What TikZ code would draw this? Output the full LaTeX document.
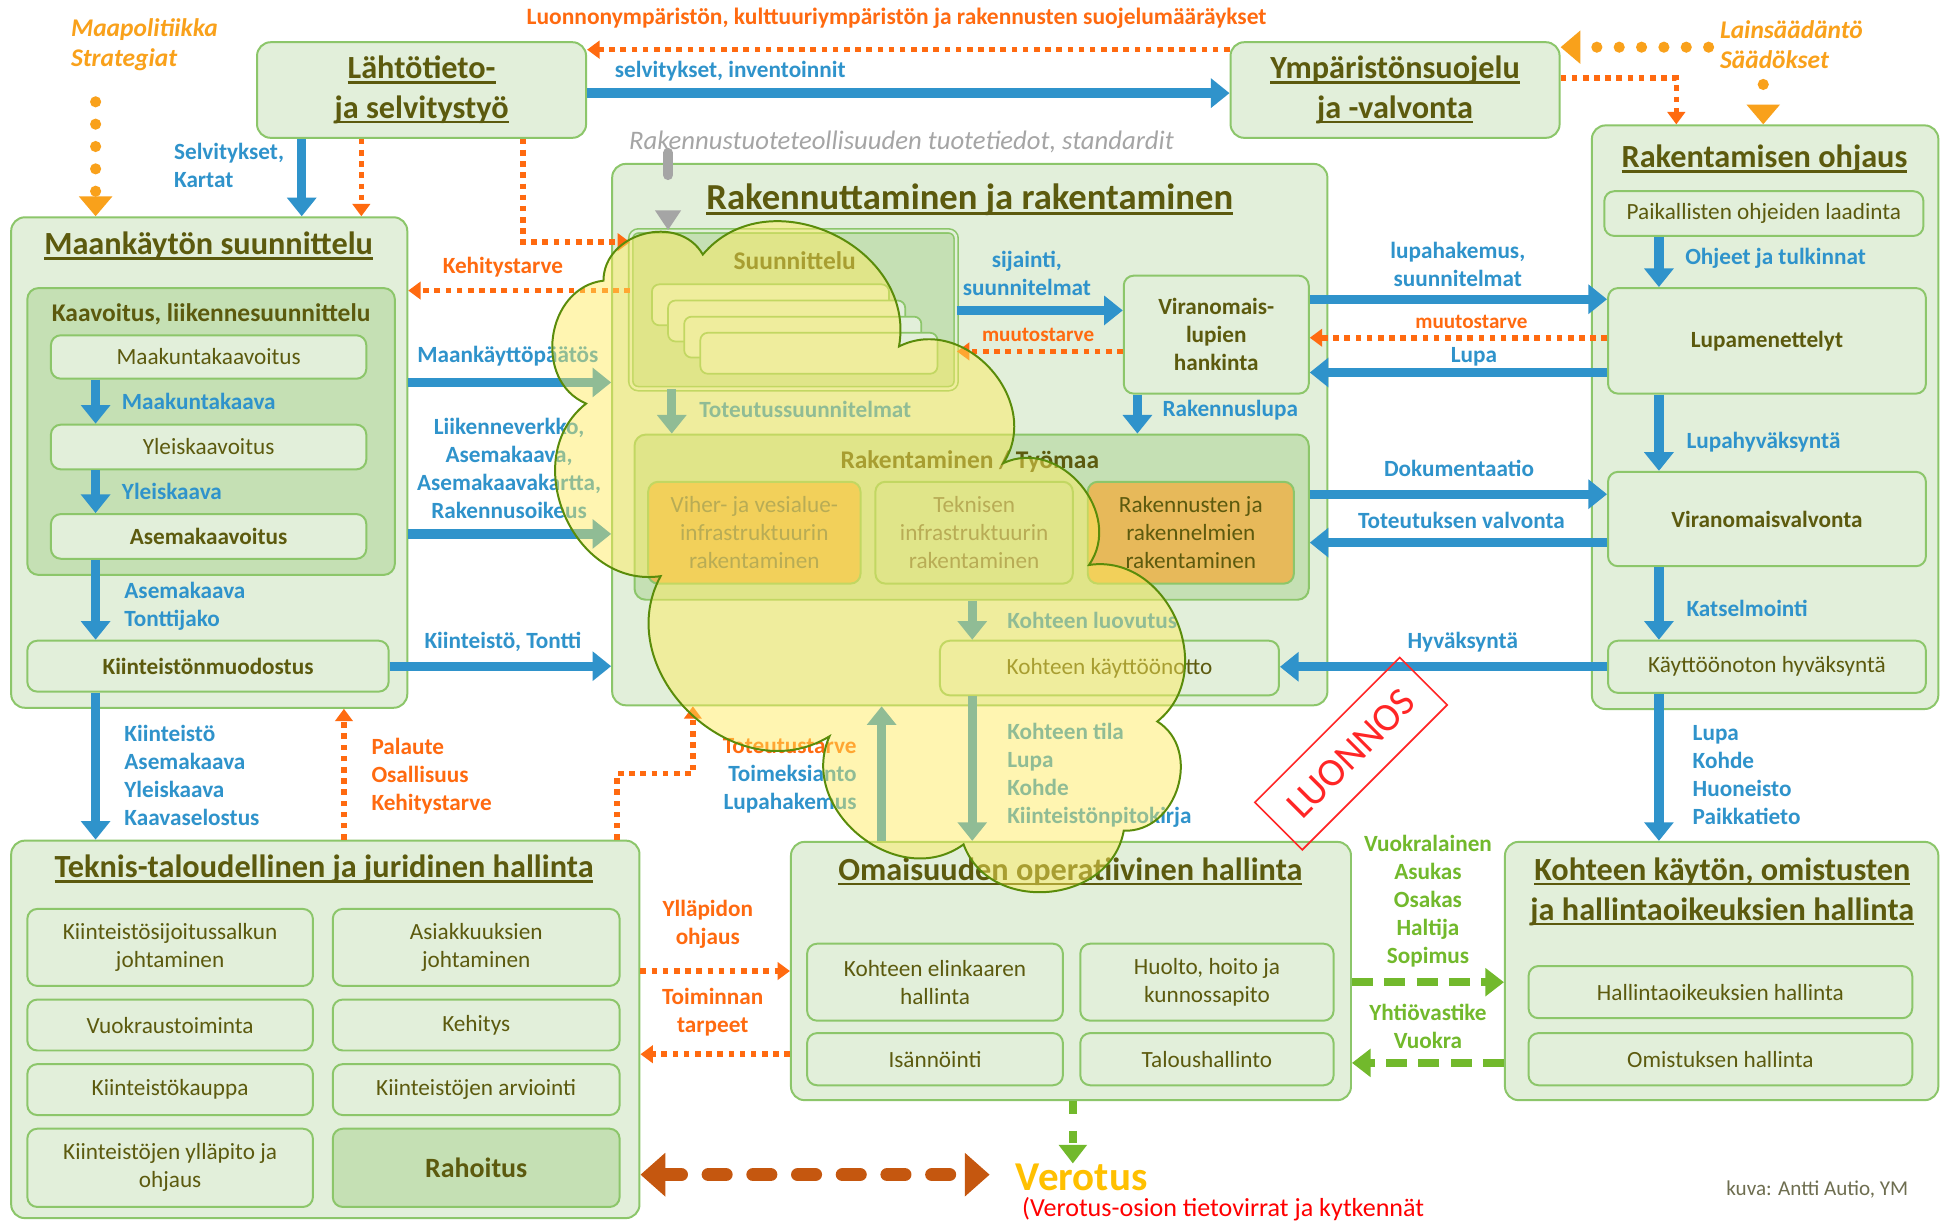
\documentclass[tikz,border=0pt]{standalone}
\usepackage{fontspec}
\setmainfont{Carlito}
\usetikzlibrary{arrows.meta,fit}

\definecolor{boxfill}{HTML}{E2EFDA}
\definecolor{boxdark}{HTML}{C5E0B4}
\definecolor{boxline}{HTML}{8CC66A}
\definecolor{olive}{HTML}{5C5A0E}
\definecolor{fadetext}{HTML}{7A7452}
\definecolor{flowblue}{HTML}{2F93CB}
\definecolor{needorange}{HTML}{FF6A10}
\definecolor{lawamber}{HTML}{F9A11B}
\definecolor{usegreen}{HTML}{72B92C}
\definecolor{taxbrown}{HTML}{C5570F}
\definecolor{taxgold}{HTML}{FFC000}
\definecolor{stampred}{HTML}{FF2626}
\definecolor{prodgray}{HTML}{A5A5A5}
\definecolor{buildorange}{HTML}{E7B95A}
\definecolor{cloudyellow}{HTML}{FFEB5A}
\definecolor{cloudline}{HTML}{5A8C0A}
\definecolor{kuvacolor}{HTML}{6E6E50}

\newcommand\lblfont{\fontsize{18.7}{22.5}\selectfont\bfseries}
\newcommand\smalllblfont{\fontsize{17}{20}\selectfont\bfseries}
\newcommand\itemfont{\fontsize{18.7}{22.5}\selectfont}
\newcommand\ttlfont{\fontsize{26}{32}\selectfont\bfseries}
\newcommand\bigttlfont{\fontsize{29.5}{34}\selectfont\bfseries}
\newcommand\subfont{\fontsize{20.5}{24}\selectfont\bfseries}
\newcommand\lawfont{\fontsize{20.5}{24}\selectfont\bfseries\itshape}
\newcommand\topfont{\fontsize{18.9}{22}\selectfont\bfseries}
\newcommand\prodfont{\fontsize{21.5}{24}\selectfont\itshape}
\newcommand\verofont{\fontsize{33}{36}\selectfont\bfseries}
\newcommand\infofont{\fontsize{21}{24}\selectfont}
\newcommand\kuvafont{\fontsize{17}{20}\selectfont}
\newcommand\stampfont{\fontsize{32}{36}\selectfont}
\newcommand\rahafont{\fontsize{22.5}{26}\selectfont\bfseries}

\newsavebox\undlbox
\newcommand\undl[1]{\leavevmode\sbox\undlbox{#1}\rlap{\rule[-4pt]{\wd\undlbox}{2pt}}\usebox\undlbox}

\tikzset{
  area/.style={draw=boxline, line width=1.6pt, fill=boxfill, rounded corners=11pt, inner sep=0pt},
  subarea/.style={area, fill=boxdark, rounded corners=9pt},
  planbox/.style={area, fill=boxdark, double=boxfill, double distance=2pt, line width=1.3pt, rounded corners=6pt},
  item/.style={area, rounded corners=8pt, text=olive, align=center, font=\itemfont},
  page/.style={draw=boxline, line width=1.4pt, fill=boxfill, rounded corners=6pt},
  ttl/.style={text=olive, align=center, font=\ttlfont, inner sep=0pt},
  subttl/.style={text=olive, font=\subfont, inner sep=0pt},
  lbl/.style={font=\lblfont, inner sep=0pt, align=left},
  bluelbl/.style={lbl, text=flowblue},
  needlbl/.style={lbl, text=needorange},
  greenlbl/.style={lbl, text=usegreen, align=center},
  lawlbl/.style={font=\lawfont, text=lawamber, align=left, inner sep=0pt},
  flow/.style={draw=flowblue, line width=7.5pt, -{Triangle[length=15pt, width=23pt]}},
  need/.style={draw=needorange, line width=4.5pt, dash pattern=on 4.5pt off 4.5pt, -{Triangle[length=10pt, width=14pt]}},
  lawdots/.style={draw=lawamber, line width=9pt, line cap=round, dash pattern=on 0pt off 18pt, -{Triangle[length=16pt, width=26pt]}},
  usedash/.style={draw=usegreen, line width=6pt, dash pattern=on 17pt off 9pt, -{Triangle[length=15pt, width=22pt]}},
  taxdash/.style={draw=taxbrown, line width=11pt, line cap=round, dash pattern=on 14pt off 22pt, {Triangle[length=20pt, width=34pt]}-{Triangle[length=20pt, width=34pt]}},
  prodline/.style={draw=prodgray, line width=8pt, line cap=round, dash pattern=on 18pt off 40pt, -{Triangle[length=16pt, width=20pt]}},
  stamp/.style={draw=stampred, line width=1.3pt, text=stampred, font=\stampfont, inner sep=0pt},
  cloudfill/.style={fill=cloudyellow, fill opacity=0.47, draw=cloudline, draw opacity=1, line width=1.6pt},
}

\begin{document}
\begin{tikzpicture}[x=1pt, y=-1pt, font=\itemfont]
\fill[white] (0,0) rectangle (1568,984);
\useasboundingbox (0,0) rectangle (1568,984);
%
% upper boxes
\node[area, ttl, minimum width=265pt, minimum height=77pt] (lahto) at (339.5,72.5) {\undl{Lähtötieto-}\\\undl{ja selvitystyö}};
\node[area, ttl, minimum width=265pt, minimum height=77pt] (ymp) at (1123.5,72.5) {\undl{Ympäristönsuojelu}\\\undl{ja -valvonta}};
%
% maankaytto
\node[area, fit={(9,175) (328,570)}] (maank) {};
\node[ttl] (maankttl) at (168,198) {\undl{Maankäytön suunnittelu}};
\node[subarea, fit={(22,232) (318,463)}] (kaav) {};
\node[subttl] (kaavttl) at (170,253) {Kaavoitus, liikennesuunnittelu};
\node[item, minimum width=254pt, minimum height=35pt] (mkv) at (168,287.5) {Maakuntakaavoitus};
\node[item, minimum width=254pt, minimum height=36pt] (ykv) at (168,360) {Yleiskaavoitus};
\node[item, minimum width=254pt, minimum height=36pt, font=\itemfont\bfseries] (akv) at (168,432) {Asemakaavoitus};
\node[item, minimum width=291pt, minimum height=41pt, font=\itemfont\bfseries] (kmuod) at (167.5,536.5) {Kiinteistönmuodostus};
%
% rakennuttaminen
\node[area, fit={(493,132) (1069,568)}] (rakennut) {};
\node[ttl, font=\bigttlfont] (rakennutttl) at (781,161) {\undl{Rakennuttaminen ja rakentaminen}};
\node[planbox, fit={(508,186) (770,313)}] (suun) {};
\node[subttl] (suunttl) at (640,210) {Suunnittelu};
\foreach \k in {0,...,3}
  \draw[page] (525+13*\k,229+13*\k) rectangle +(191,33);
\node[item, minimum width=149pt, minimum height=95pt, font=\itemfont\bfseries] (vlh) at (979.5,269.5) {Viranomais-\\lupien\\hankinta};
\node[subarea, fit={(511,350) (1054,483)}] (tyom) {};
\node[subttl] (tyomttl) at (781,372) {Rakentaminen / Työmaa};
\node[item, minimum width=171pt, minimum height=82pt, fill=buildorange, text=fadetext] (viher) at (607.5,429) {Viher- ja vesialue-\\infrastruktuurin\\rakentaminen};
\node[item, minimum width=159pt, minimum height=82pt, fill=boxdark, text=fadetext] (tekn) at (784.5,429) {Teknisen\\infrastruktuurin\\rakentaminen};
\node[item, minimum width=166pt, minimum height=82pt, fill=buildorange] (rakn) at (959,429) {Rakennusten ja\\rakennelmien\\rakentaminen};
\node[item, minimum width=273pt, minimum height=44pt] (kaytto) at (893.5,538) {Kohteen käyttöönotto};
%
% rakentamisen ohjaus
\node[area, fit={(1282,101) (1561,571)}] (rakohj) {};
\node[ttl] (rakohjttl) at (1421,128) {\undl{Rakentamisen ohjaus}};
\node[item, minimum width=257pt, minimum height=36pt] (paik) at (1420.5,172) {Paikallisten ohjeiden laadinta};
\node[item, minimum width=256pt, minimum height=85pt, font=\itemfont\bfseries] (lupam) at (1423,274.5) {Lupamenettelyt};
\node[item, minimum width=256pt, minimum height=76pt, font=\itemfont\bfseries] (viral) at (1423,418) {Viranomaisvalvonta};
\node[item, minimum width=256pt, minimum height=42pt] (khyv) at (1423,537) {Käyttöönoton hyväksyntä};
%
% hallinta boxes
\node[area, fit={(9,677) (515,981)}] (tth) {};
\node[ttl] (tthttl) at (261,700) {\undl{Teknis-taloudellinen ja juridinen hallinta}};
\node[item, minimum width=230pt, minimum height=62pt] (salkku) at (137,763) {Kiinteistösijoitussalkun\\johtaminen};
\node[item, minimum width=231pt, minimum height=62pt] (asiak) at (383.5,763) {Asiakkuuksien\\johtaminen};
\node[item, minimum width=230pt, minimum height=41pt] (vuokr) at (137,825.5) {Vuokraustoiminta};
\node[item, minimum width=231pt, minimum height=41pt] (kehitys) at (383.5,825.5) {Kehitys};
\node[item, minimum width=230pt, minimum height=41pt] (kauppa) at (137,877.5) {Kiinteistökauppa};
\node[item, minimum width=231pt, minimum height=41pt] (arvio) at (383.5,877.5) {Kiinteistöjen arviointi};
\node[item, minimum width=230pt, minimum height=63pt] (yllapito) at (137,940.5) {Kiinteistöjen ylläpito ja\\ohjaus};
\node[item, minimum width=231pt, minimum height=63pt, fill=boxdark, font=\rahafont] (raha) at (383.5,940.5) {Rahoitus};
%
\node[area, fit={(637,678) (1088,886)}] (omai) {};
\node[ttl] (omaittl) at (862,702) {\undl{Omaisuuden operatiivinen hallinta}};
\node[item, minimum width=206pt, minimum height=62pt] (elink) at (753,791) {Kohteen elinkaaren\\hallinta};
\node[item, minimum width=204pt, minimum height=62pt] (huolto) at (972,791) {Huolto, hoito ja\\kunnossapito};
\node[item, minimum width=206pt, minimum height=42pt] (isann) at (753,853) {Isännöinti};
\node[item, minimum width=204pt, minimum height=42pt] (talous) at (972,853) {Taloushallinto};
%
\node[area, fit={(1212,678) (1561,886)}] (kayt) {};
\node[ttl] (kayttl) at (1387,718) {\undl{Kohteen käytön, omistusten}\\\undl{ja hallintaoikeuksien hallinta}};
\node[item, minimum width=309pt, minimum height=42pt] (hallo) at (1385.5,799) {Hallintaoikeuksien hallinta};
\node[item, minimum width=309pt, minimum height=42pt] (omist) at (1385.5,853) {Omistuksen hallinta};
%
% free texts
\node[lawlbl, anchor=west] (maapol) at (57,36) {Maapolitiikka\\Strategiat};
\node[lawlbl, anchor=west] (laki) at (1385,36) {Lainsäädäntö\\Säädökset};
\node[needlbl, font=\topfont] (suojelu) at (722,15) {Luonnonympäristön, kulttuuriympäristön ja rakennusten suojelumääräykset};
\node[font=\prodfont, text=prodgray, inner sep=0pt] (prod) at (726,114) {Rakennustuoteteollisuuden tuotetiedot, standardit};
\node[font=\verofont, text=taxgold, anchor=west, inner sep=0pt] (verotus) at (818,948) {Verotus};
\node[font=\infofont, text=red, anchor=west, inner sep=0pt] (verinfo) at (823,974) {(Verotus-osion tietovirrat ja kytkennät};
\node[font=\kuvafont, text=kuvacolor, anchor=east, inner sep=0pt] (kuva) at (1537,958) {kuva: Antti Autio, YM};
%
% labels
\node[bluelbl, anchor=west] (selvinv) at (495,57) {selvitykset, inventoinnit};
\node[bluelbl, anchor=west] (selvkart) at (140,133) {Selvitykset,\\Kartat};
\node[bluelbl] (mkp) at (409,287) {Maankäyttöpäätös};
\node[bluelbl, align=center] (liik) at (410,377) {Liikenneverkko,\\Asemakaava,\\Asemakaavakartta,\\Rakennusoikeus};
\node[bluelbl] (kt) at (405,517) {Kiinteistö, Tontti};
\node[bluelbl, anchor=west] (mkaava) at (98,323) {Maakuntakaava};
\node[bluelbl, anchor=west] (ykaava) at (98,396) {Yleiskaava};
\node[bluelbl, anchor=west] (aktj) at (100,488) {Asemakaava\\Tonttijako};
\node[bluelbl, anchor=west] (kiint) at (100,624.5) {Kiinteistö\\Asemakaava\\Yleiskaava\\Kaavaselostus};
\node[bluelbl, align=center] (sijainti) at (827,220) {sijainti,\\suunnitelmat};
\node[bluelbl, anchor=west] (toteusuun) at (563,330) {Toteutussuunnitelmat};
\node[bluelbl, anchor=west] (rlupa) at (936,330) {Rakennuslupa};
\node[bluelbl, anchor=west] (luovutus) at (811,500) {Kohteen luovutus};
\node[bluelbl, anchor=west] (tila) at (811,624.5) {Kohteen tila\\Lupa\\Kohde\\Kiinteistönpitokirja};
\node[bluelbl, anchor=east, align=right] (toimeks) at (690,625) {\textcolor{needorange}{Toteutustarve}\\Toimeksianto\\Lupahakemus};
\node[bluelbl, align=center] (lupahak) at (1174,213) {lupahakemus,\\suunnitelmat};
\node[bluelbl] (lupa) at (1187,287) {Lupa};
\node[bluelbl] (dok) at (1175,377) {Dokumentaatio};
\node[bluelbl] (totval) at (1177,419) {Toteutuksen valvonta};
\node[bluelbl] (hyv) at (1178,517) {Hyväksyntä};
\node[bluelbl, anchor=west] (ohjeet) at (1357,208) {Ohjeet ja tulkinnat};
\node[bluelbl, anchor=west] (lupahyv) at (1358,356) {Lupahyväksyntä};
\node[bluelbl, anchor=west] (katsel) at (1358,490) {Katselmointi};
\node[bluelbl, anchor=west] (lkhp) at (1363,624.5) {Lupa\\Kohde\\Huoneisto\\Paikkatieto};
\node[needlbl] (kehit) at (405,215) {Kehitystarve};
\node[needlbl, font=\smalllblfont] (muut1) at (836,270) {muutostarve};
\node[needlbl, font=\smalllblfont] (muut2) at (1185,259) {muutostarve};
\node[needlbl, anchor=west] (palaute) at (299,625) {Palaute\\Osallisuus\\Kehitystarve};
\node[needlbl, align=center] (yllap) at (570,744.5) {Ylläpidon\\ohjaus};
\node[needlbl, align=center] (toimtarve) at (574,815.5) {Toiminnan\\tarpeet};
\node[greenlbl] (vuokral) at (1150,725.5) {Vuokralainen\\Asukas\\Osakas\\Haltija\\Sopimus};
\node[greenlbl] (yhtio) at (1150,826.5) {Yhtiövastike\\Vuokra};
%
\coordinate (maapoldot) at (77,82);
\coordinate (lakidot) at (1376,38);
\coordinate (lakidot2) at (1420,68);
\coordinate (taxend) at (797,946);
%
% blue flows
\draw[flow] (lahto.east |- 0,75) -- (ymp.west |- 0,75);
\draw[flow] (lahto.south -| 243,0) -- (maank.north -| 243,0);
\draw[flow] (mkv.south -| 77,0) -- (ykv.north -| 77,0);
\draw[flow] (ykv.south -| 77,0) -- (akv.north -| 77,0);
\draw[flow] (akv.south -| 77,0) -- (kmuod.north -| 77,0);
\draw[flow] (kmuod.south -| 77,0) -- (tth.north -| 77,0);
\draw[flow] (maank.east |- 0,308) -- (rakennut.west |- 0,308);
\draw[flow] (maank.east |- 0,430) -- (rakennut.west |- 0,430);
\draw[flow] (kmuod.east) -- (rakennut.west |- kmuod.east);
\draw[flow] (suun.east |- 0,250) -- (vlh.west |- 0,250);
\draw[flow] (suun.south -| 541,0) -- (tyom.north -| 541,0);
\draw[flow] (vlh.south -| 916,0) -- (tyom.north -| 916,0);
\draw[flow] (tyom.south -| 783,0) -- (kaytto.north -| 783,0);
\draw[flow] (kaytto.south -| 783,0) -- (omai.north -| 783,0);
\draw[flow] (omai.north -| 710,0) -- (rakennut.south -| 710,0);
\draw[flow] (vlh.east |- 0,241) -- (lupam.west |- 0,241);
\draw[flow] (lupam.west |- 0,300) -- (vlh.east |- 0,300);
\draw[flow] (tyom.east |- 0,398) -- (viral.west |- 0,398);
\draw[flow] (viral.west |- 0,437) -- (tyom.east |- 0,437);
\draw[flow] (khyv.west) -- (kaytto.east |- khyv.west);
\draw[flow] (paik.south -| 1336,0) -- (lupam.north -| 1336,0);
\draw[flow] (lupam.south -| 1336,0) -- (viral.north -| 1336,0);
\draw[flow] (viral.south -| 1336,0) -- (khyv.north -| 1336,0);
\draw[flow] (khyv.south -| 1336,0) -- (kayt.north -| 1336,0);
%
% needs and feedback
\draw[need] (ymp.west |- 0,40) -- (lahto.east |- 0,40);
\draw[need] (lahto.south -| 291,0) -- (maank.north -| 291,0);
\draw[need] (lahto.south -| 421,0) |- (suun.west |- 0,195);
\draw[need] (suun.west |- 0,234) -- (maank.east |- 0,234);
\draw[need] (ymp.east |- 0,63) -| (rakohj.north -| 1350,0);
\draw[need] (vlh.west |- 0,283) -- (suun.east |- 0,283);
\draw[need] (lupam.west |- 0,272) -- (vlh.east |- 0,272);
\draw[need] (tth.north -| 277,0) -- (maank.south -| 277,0);
\draw[need] (tth.north -| 497,0) |- (558,623) -- (rakennut.south -| 558,0);
\draw[need] (tth.east |- 0,782) -- (omai.west |- 0,782);
\draw[need] (omai.west |- 0,849) -- (tth.east |- 0,849);
%
% law, use, tax, products
\draw[lawdots] (maapoldot) -- (maank.north -| maapoldot);
\draw[lawdots] (lakidot) -- (ymp.east |- lakidot);
\draw[lawdots] (lakidot2) -- (rakohj.north -| lakidot2);
\draw[usedash] (omai.east |- 0,791) -- (kayt.west |- 0,791);
\draw[usedash] (kayt.west |- 0,856) -- (omai.east |- 0,856);
\draw[usedash, dash pattern=on 10pt off 14pt] (omai.south -| 864,0) -- (verotus.north -| 864,0);
\draw[taxdash] (tth.east |- 0,946) -- (taxend);
\draw[prodline] (prod.south -| 538,0) -- (suun.north -| 538,0);
%
% cloud
\draw[cloudfill] (486,226) to[bend left=75, looseness=1.2] (566,205)
  to[bend left=75, looseness=1.2] (724,279)
  to[bend left=75, looseness=1.2] (808,373)
  to[bend left=75, looseness=1.2] (877,455)
  to[bend left=75, looseness=1.2] (932,581)
  to[bend left=75, looseness=1.2] (905,669)
  to[bend left=75, looseness=1.2] (776,680)
  to[bend left=75, looseness=1.2] (668,593)
  to[bend left=75, looseness=1.2] (532,464)
  to[bend left=75, looseness=1.2] (472,325)
  to[bend left=75, looseness=1.2] (486,226) -- cycle;
%
\node[stamp, rotate=45, minimum width=165pt, minimum height=54pt] (luonnos) at (1088,607) {LUONNOS};
\end{tikzpicture}
\end{document}
